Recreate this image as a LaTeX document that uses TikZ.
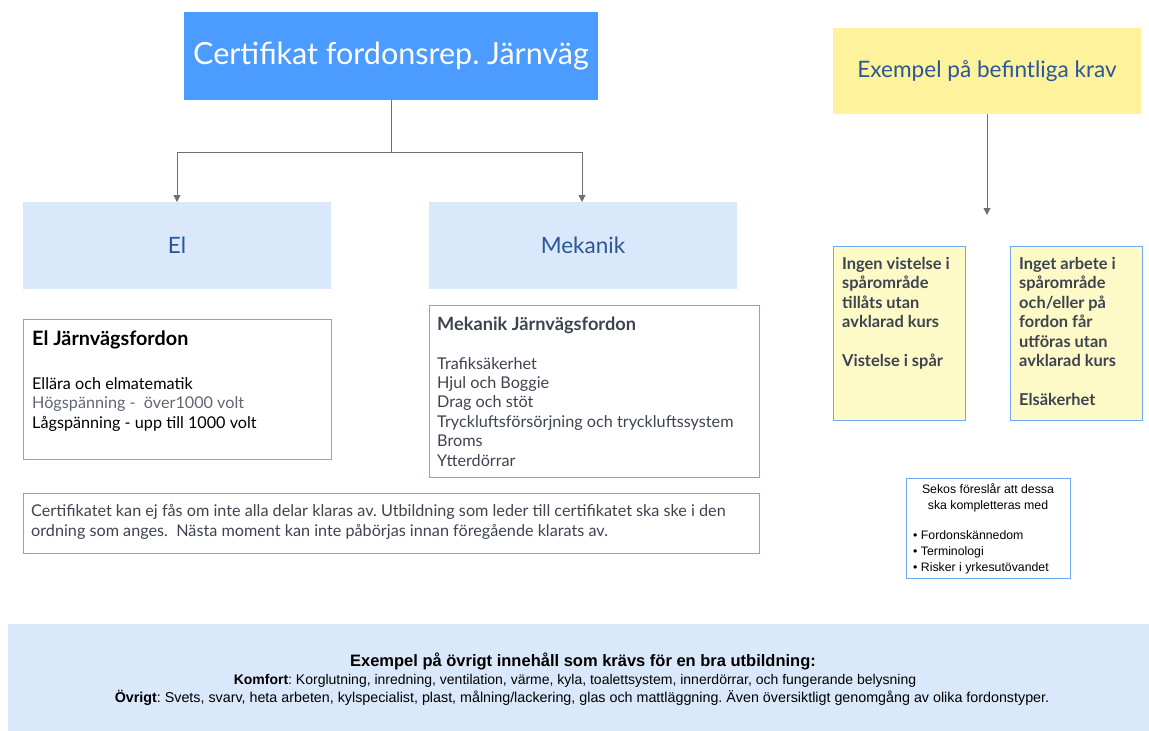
\documentclass[tikz,border=0pt]{standalone}
\usepackage{fontspec}
\setmainfont{Lato}
\newfontfamily\arialfont{Liberation Sans}
\usetikzlibrary{arrows.meta}
\definecolor{titleblue}{HTML}{4C9BFF}
\definecolor{lightblue}{HTML}{DAE8FC}
\definecolor{borderblue}{HTML}{6FA8F5}
\definecolor{arrowgrey}{HTML}{6B7079}
\definecolor{darktext}{HTML}{3D4450}
\definecolor{bluetext}{HTML}{2B5797}
\definecolor{headyellow}{HTML}{FEF39C}
\definecolor{paleyellow}{HTML}{FDFAC8}
\definecolor{greytext}{HTML}{5F6670}
\frenchspacing
\begin{document}
\begin{tikzpicture}[x=1pt,y=-1pt,
  box/.style={rectangle,inner sep=0pt,outer sep=0pt,anchor=north west},
  filledbox/.style={box,draw=none},
  outlinebox/.style={box,draw=borderblue,line width=0.9pt},
  conn/.style={draw=arrowgrey,line width=1pt,-{Triangle[length=7pt,width=7pt]}},
  line/.style={inner sep=0pt,anchor=base west},
  f15/.style={font=\fontsize{16.2}{19.5}\selectfont},
  ybold/.style={font=\bfseries\fontsize{16.4}{19}\selectfont,text=darktext},
  ar/.style={font=\arialfont\fontsize{12.3}{15}\selectfont}
]
\useasboundingbox (0,0) rectangle (1149,731);

% top title
\node[filledbox,fill=titleblue,minimum width=414pt,minimum height=88pt] (title) at (184,12) {};
\node[text=white,font=\fontsize{30.5}{34}\selectfont,inner sep=0pt] (titletxt) at (title.center) {Certifikat fordonsrep. Järnväg};

% El / Mekanik headers
\node[filledbox,fill=lightblue,minimum width=308pt,minimum height=87pt] (el) at (23,202) {};
\node[text=bluetext,font=\fontsize{22.5}{26}\selectfont,inner sep=0pt] (eltxt) at (el.center) {El};
\node[filledbox,fill=lightblue,minimum width=308pt,minimum height=87pt] (mek) at (429,202) {};
\node[text=bluetext,font=\fontsize{22.5}{26}\selectfont,inner sep=0pt] (mektxt) at (mek.center) {Mekanik};

% connectors from title
\coordinate (split) at (391,152);
\draw[conn] (title.south -| split) -- (split) -| (el.north -| 177,0);
\draw[conn] (split) -| (mek.north -| 582,0);

% El Järnvägsfordon box
\node[outlinebox,minimum width=308pt,minimum height=140pt] (elbox) at (23,319) {};
\node[line,font=\bfseries\fontsize{19.8}{23}\selectfont,text=black] (elhead) at (32,345) {El Järnvägsfordon};
\node[line,f15,text=black] (el1) at (32,389) {Ellära och elmatematik};
\node[line,f15,text=greytext] (el2) at (32,408.5) {Högspänning -\ \ över1000 volt};
\node[line,f15,text=black] (el3) at (32,428) {Lågspänning - upp till 1000 volt};

% Mekanik Järnvägsfordon box
\node[outlinebox,minimum width=330pt,minimum height=172pt] (mekbox) at (429,305) {};
\node[line,font=\bfseries\fontsize{18.2}{22}\selectfont,text=darktext] (mekhead) at (437,330) {Mekanik Järnvägsfordon};
\foreach \t [count=\i] in {Trafiksäkerhet,Hjul och Boggie,Drag och stöt,Tryckluftsförsörjning och tryckluftssystem,Broms,Ytterdörrar}
  \node[line,f15,text=darktext] (mek\i) at (437,{369+19.4*(\i-1)}) {\t};

% Certifikatet box
\node[outlinebox,minimum width=736pt,minimum height=60pt] (certbox) at (23,493) {};
\node[line,f15,text=darktext] (cert1) at (31,516) {Certifikatet kan ej fås om inte alla delar klaras av. Utbildning som leder till certifikatet ska ske i den};
\node[line,f15,text=darktext] (cert2) at (31,536) {ordning som anges.\ \ Nästa moment kan inte påbörjas innan föregående klarats av.};

% Yellow header
\node[filledbox,fill=headyellow,minimum width=308pt,minimum height=86pt] (ex) at (833,28) {};
\node[text=bluetext,font=\fontsize{22.6}{26}\selectfont,inner sep=0pt] (extxt) at (ex.center) {Exempel på befintliga krav};
\coordinate (exend) at (987,215);
\draw[conn] (ex.south -| exend) -- (exend);

% Yellow requirement boxes
\node[outlinebox,fill=paleyellow,minimum width=132pt,minimum height=174pt] (req1) at (833,246) {};
\node[outlinebox,fill=paleyellow,minimum width=132pt,minimum height=174pt] (req2) at (1010,246) {};
\foreach \t [count=\i] in {Ingen vistelse i,spårområde,tillåts utan,avklarad kurs,,Vistelse i spår}
  \node[line,ybold] (ra\i) at (842,{269+19.5*(\i-1)}) {\t};
\foreach \t [count=\i] in {Inget arbete i,spårområde,och/eller på,fordon får,utföras utan,avklarad kurs,,Elsäkerhet}
  \node[line,ybold] (rb\i) at (1019,{269+19.5*(\i-1)}) {\t};

% Sekos box
\node[outlinebox,minimum width=164pt,minimum height=100pt] (sekos) at (906,478) {};
\node[ar,inner sep=0pt,anchor=base] (sk1) at (988,493) {Sekos föreslår att dessa};
\node[ar,inner sep=0pt,anchor=base] (sk2) at (988,509) {ska kompletteras med};
\foreach \t [count=\i] in {Fordonskännedom,Terminologi,Risker i yrkesutövandet}
  \node[ar,line] (sb\i) at (913,{539+16*(\i-1)}) {•\ \t};

% Bottom box
\node[filledbox,fill=lightblue,minimum width=1141pt,minimum height=107pt] (bottom) at (8,624) {};
\node[inner sep=0pt,anchor=base,font=\arialfont\bfseries\fontsize{16.5}{19}\selectfont] (b1) at (583,666) {Exempel på övrigt innehåll som krävs för en bra utbildning:};
\node[inner sep=0pt,anchor=base,font=\arialfont\fontsize{14}{16}\selectfont] (b2) at (575,684) {\textbf{Komfort}: Korglutning, inredning, ventilation, värme, kyla, toalettsystem, innerdörrar, och fungerande belysning};
\node[inner sep=0pt,anchor=base,font=\arialfont\fontsize{14.3}{16}\selectfont] (b3) at (582,702) {\textbf{Övrigt}: Svets, svarv, heta arbeten, kylspecialist, plast, målning/lackering, glas och mattläggning. Även översiktligt genomgång av olika fordonstyper.};
\end{tikzpicture}
\end{document}
